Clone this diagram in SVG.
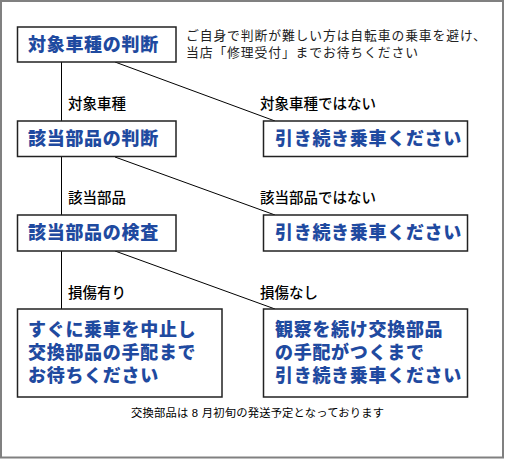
<svg xmlns="http://www.w3.org/2000/svg" width="505" height="459" viewBox="0 0 505 459">
<style>
text{font-family:"Liberation Sans","Noto Sans CJK JP",sans-serif}
.box{fill:#fff;stroke:#222;stroke-width:1.5}
.bt{font-weight:900;font-size:18px;letter-spacing:0.7px;fill:#1f4aa0}
.lb{font-weight:500;font-size:14.5px;fill:#000}
.nt{font-weight:400;font-size:12.8px;letter-spacing:0.9px;fill:#222}
.ft{font-weight:400;font-size:11.3px;letter-spacing:0.2px;fill:#000}
.ln{stroke:#000;stroke-width:1;fill:none}
</style>
<rect x="1" y="1" width="502" height="456.5" fill="#fff" stroke="#808080" stroke-width="2"/>
<g id="connectors">
<line class="ln" x1="61.5" y1="62" x2="61.5" y2="309"/>
<line class="ln" x1="115" y1="62" x2="275" y2="121"/>
<line class="ln" x1="115" y1="157" x2="275" y2="215"/>
<line class="ln" x1="115" y1="251" x2="275" y2="309"/>
<text class="lb" x="68" y="109">対象車種</text>
<text class="lb" x="260" y="109">対象車種ではない</text>
<text class="lb" x="68" y="203">該当部品</text>
<text class="lb" x="260" y="203">該当部品ではない</text>
<text class="lb" x="68" y="298">損傷有り</text>
<text class="lb" x="260" y="298">損傷なし</text>
</g>
<g id="note">
<text class="nt" x="186" y="39.5">ご自身で判断が難しい方は自転車の乗車を避け、</text>
<text class="nt" x="186" y="56.5">当店「修理受付」までお待ちください</text>
</g>
<g id="n1">
<rect class="box" x="17.5" y="27" width="158.5" height="35"/>
<text class="bt" x="28" y="51">対象車種の判断</text>
</g>
<g id="n2">
<rect class="box" x="17.5" y="121" width="158.5" height="35.5"/>
<text class="bt" x="28" y="145">該当部品の判断</text>
</g>
<g id="n3">
<rect class="box" x="263.5" y="121" width="204" height="35.5"/>
<text class="bt" x="275" y="145">引き続き乗車ください</text>
</g>
<g id="n4">
<rect class="box" x="17.5" y="215" width="158.5" height="36"/>
<text class="bt" x="28" y="239">該当部品の検査</text>
</g>
<g id="n5">
<rect class="box" x="263.5" y="215" width="204" height="36"/>
<text class="bt" x="275" y="239">引き続き乗車ください</text>
</g>
<g id="n6">
<rect class="box" x="17.5" y="309" width="204.5" height="88"/>
<text class="bt" x="28" y="336">すぐに乗車を中止し</text>
<text class="bt" x="28" y="359">交換部品の手配まで</text>
<text class="bt" x="28" y="382">お待ちください</text>
</g>
<g id="n7">
<rect class="box" x="263.5" y="309" width="204" height="88"/>
<text class="bt" x="275" y="336">観察を続け交換部品</text>
<text class="bt" x="275" y="359">の手配がつくまで</text>
<text class="bt" x="275" y="382">引き続き乗車ください</text>
</g>
<g id="footer">
<text class="ft" x="131" y="417">交換部品は 8 月初旬の発送予定となっております</text>
</g>
</svg>
